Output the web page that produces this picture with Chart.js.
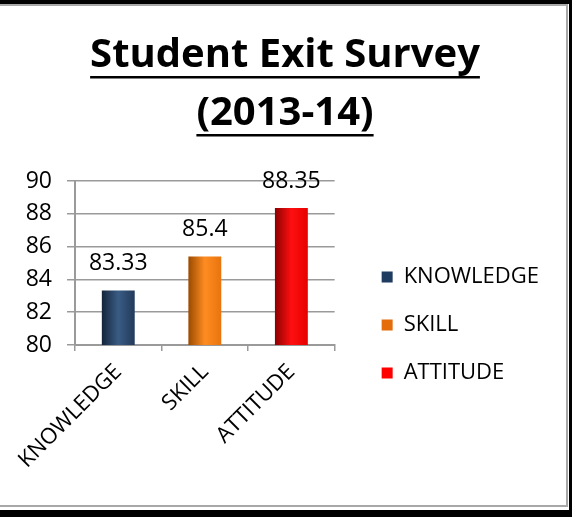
<!DOCTYPE html>
<html>
<head>
<meta charset="utf-8">
<script src="https://cdn.jsdelivr.net/npm/chart.js@4.4.1/dist/chart.umd.min.js"></script>
<style>
  html, body { margin: 0; padding: 0; background: #fff; }
  #wrap { position: relative; width: 572px; height: 517px; overflow: hidden; }
  #wrap canvas { position: absolute; left: 0; top: 0; }
  .rule { position: absolute; }
</style>
</head>
<body>
<div id="wrap">
  <canvas id="myChart" width="572" height="517"></canvas>
  <!-- frame lines around the slide -->
  <div class="rule" style="left:0;top:0;width:572px;height:4px;background:#000"></div>
  <div class="rule" style="left:0;top:4px;width:568px;height:2px;background:#a8a8a8"></div>
  <div class="rule" style="left:0;top:505px;width:568px;height:2px;background:#a8a8a8"></div>
  <div class="rule" style="left:0;top:510px;width:572px;height:7px;background:#000"></div>
  <div class="rule" style="left:566px;top:4px;width:2px;height:503px;background:#a8a8a8"></div>
  <div class="rule" style="left:569px;top:0;width:3px;height:517px;background:#000"></div>
</div>
<script>
// chart data
const titleLines = ['Student Exit Survey', '(2013-14)'];
const categories = ['KNOWLEDGE', 'SKILL', 'ATTITUDE'];
const scores = [83.33, 85.4, 88.35];
const yTicks = [80, 82, 84, 86, 88, 90];

// bar shading: dark edge, highlight, right edge
const barShades = [
  ['#14243a', '#3a5c84', '#223a5a'],
  ['#9a4a00', '#ff8c22', '#e8740e'],
  ['#8c0000', '#ff1010', '#e60000']
];
const legendColors = ['#1f3b60', '#e46c0a', '#ff0000'];

Chart.defaults.font.family = "'Open Sans', sans-serif";
Chart.defaults.color = '#000';

// gradient across each bar so it looks like the rounded excel bars
function barFill(shade) {
  return function(ctx) {
    const chart = ctx.chart;
    const x = chart.scales.x;
    if (!x || ctx.type !== 'data') return shade[1];
    const cx = x.getPixelForValue(ctx.dataIndex);
    const w = x.width / categories.length * 0.38;
    const g = chart.ctx.createLinearGradient(cx - w / 2, 0, cx + w / 2, 0);
    g.addColorStop(0, shade[0]);
    g.addColorStop(0.5, shade[1]);
    g.addColorStop(1, shade[2]);
    return g;
  };
}

// one dataset per category so the legend lists the categories
const datasets = categories.map((name, i) => ({
  label: name,
  data: categories.map((_, j) => (j === i ? scores[i] : null)),
  backgroundColor: barFill(barShades[i]),
  borderWidth: 0
}));

const titlePlugin = {
  id: 'underlinedTitle',
  afterDraw(chart) {
    const c = chart.ctx;
    const baselines = [67, 125];
    c.save();
    c.font = "bold 40px 'Open Sans', sans-serif";
    c.fillStyle = '#000';
    c.textAlign = 'center';
    c.textBaseline = 'alphabetic';
    titleLines.forEach((t, i) => {
      const cx = 285;
      c.fillText(t, cx, baselines[i]);
      const w = c.measureText(t).width;
      c.fillRect(cx - w / 2, baselines[i] + 9, w, 2.5);
    });
    c.restore();
  }
};

const valueLabels = {
  id: 'valueLabels',
  afterDatasetsDraw(chart) {
    const c = chart.ctx;
    c.save();
    c.font = "23px 'Open Sans', sans-serif";
    c.fillStyle = '#000';
    c.textAlign = 'center';
    c.textBaseline = 'middle';
    chart.data.datasets.forEach((ds, i) => {
      chart.getDatasetMeta(i).data.forEach((bar, j) => {
        const v = ds.data[j];
        if (v == null) return;
        c.fillText(String(v), bar.x, bar.y - 27);
      });
    });
    c.restore();
  }
};

const ctx = document.getElementById('myChart').getContext('2d');
new Chart(ctx, {
  type: 'bar',
  data: { labels: categories, datasets: datasets },
  options: {
    responsive: false,
    animation: false,
    skipNull: true,
    categoryPercentage: 1,
    barPercentage: 0.38,
    layout: { padding: { top: 181, left: 26, right: 23, bottom: 48 } },
    plugins: {
      title: { display: false },
      tooltip: { enabled: false },
      legend: {
        position: 'right',
        maxWidth: 240,
        labels: {
          boxWidth: 11,
          boxHeight: 11,
          padding: 26,
          color: '#000',
          font: { size: 22 },
          generateLabels: (chart) => chart.data.datasets.map((ds, i) => ({
            text: ds.label,
            fillStyle: legendColors[i],
            strokeStyle: legendColors[i],
            lineWidth: 0,
            hidden: false,
            datasetIndex: i
          }))
        }
      }
    },
    scales: {
      x: {
        grid: { offset: true, drawOnChartArea: false, drawTicks: true, tickLength: 6, color: '#9a9a9a', lineWidth: 1.5 },
        border: { display: true, color: '#9a9a9a', width: 2 },
        ticks: { minRotation: 45, maxRotation: 45, padding: 8, color: '#000', font: { size: 22 } },
        afterFit(s) {
          s.height = 124;
          // let the rotated first label run into the left margin like the original
          s.paddingLeft = 0;
          s.paddingRight = 0;
        }
      },
      y: {
        min: yTicks[0],
        max: yTicks[yTicks.length - 1],
        afterBuildTicks(s) { s.ticks = yTicks.map(v => ({ value: v })); },
        afterFit(s) { s.width = 49; },
        grid: { color: '#9a9a9a', lineWidth: 1.5, tickLength: 8 },
        border: { display: true, color: '#9a9a9a', width: 2 },
        ticks: { padding: 15, color: '#000', font: { size: 23 } }
      },
      gap: {
        // empty axis that only keeps the legend away from the plot
        position: 'right',
        display: true,
        grid: { display: false },
        border: { display: false },
        ticks: { display: false },
        afterFit(s) { s.width = 21; }
      }
    }
  },
  plugins: [titlePlugin, valueLabels]
});
</script>
</body>
</html>
